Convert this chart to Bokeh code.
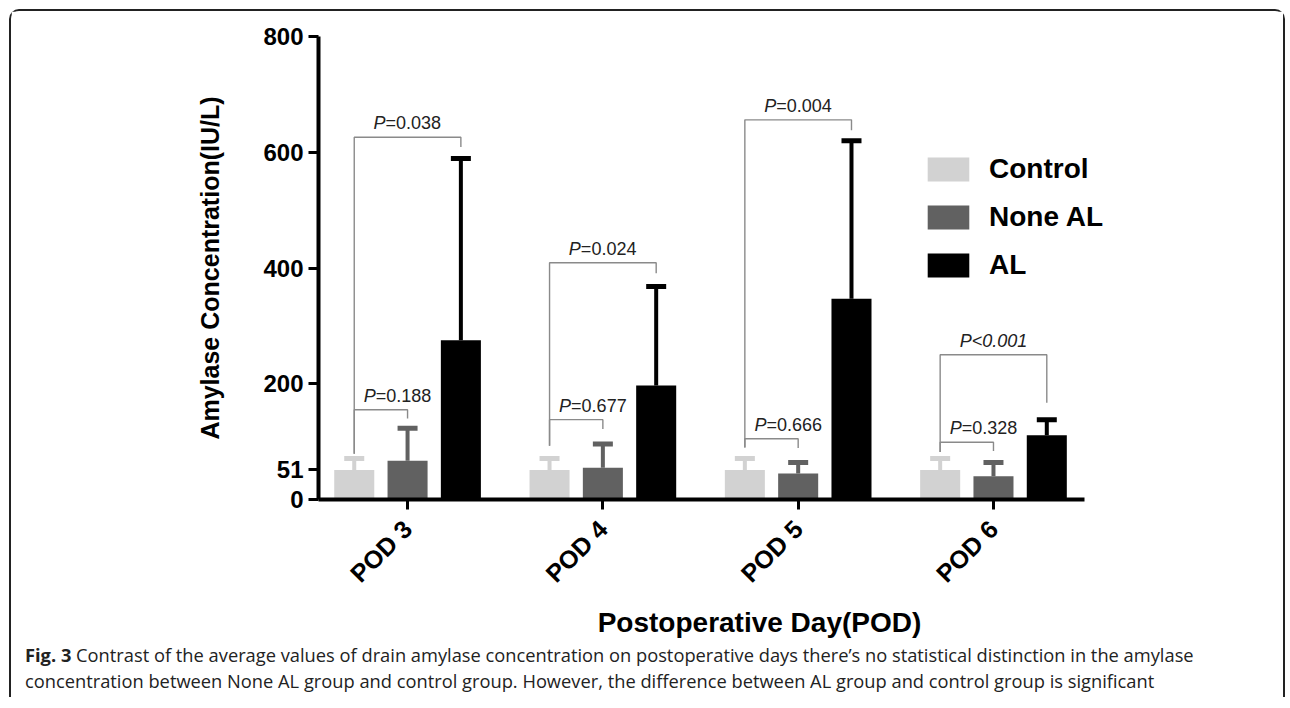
import math
from bokeh.plotting import figure
from bokeh.models import (ColumnDataSource, Range1d, FixedTicker, Whisker, TeeHead, Div)
from bokeh.layouts import column
from bokeh.core.properties import value
from bokeh.embed import file_html
from bokeh.resources import INLINE

# ---------------- data ----------------
categories = ["POD 3", "POD 4", "POD 5", "POD 6"]
groups = ["Control", "None AL", "AL"]
control_mean = [51, 51, 51, 51]
control_sd = [20, 20, 20, 20]
none_al_mean = [67, 55, 45, 40]
none_al_sd = [56, 41, 19, 24]
al_mean = [275, 197, 347, 111]
al_sd = [314, 171, 273, 27]
y_ticks = [0, 51, 200, 400, 600, 800]

# significance brackets (Control vs group)
cmp_pod = [0, 0, 1, 1, 2, 2, 3, 3]
cmp_group = [1, 2, 1, 2, 1, 2, 1, 2]
cmp_top = [155, 626, 138, 409, 105, 656, 99, 250]
cmp_left_bottom = [79, 79, 93, 93, 90, 90, 82, 82]
cmp_right_bottom = [140, 609, 122, 391, 89, 638, 84, 167]
cmp_op = ["=", "=", "=", "=", "=", "=", "=", "<"]
cmp_p = ["0.188", "0.038", "0.677", "0.024", "0.666", "0.004", "0.328", "0.001"]

caption_bold = "Fig. 3"
caption_line1 = ("Contrast of the average values of drain amylase concentration on postoperative days "
                 "there\u2019s no statistical distinction in the amylase")
caption_line2 = ("concentration between None AL group and control group. However, the difference "
                 "between AL group and control group is significant")

# ---------------- style ----------------
FONT = "Liberation Sans"
colors = ["#d2d2d2", "#616161", "#000000"]
offsets = [-0.273, 0.0, 0.273]
bar_w = 0.205
x_lo, x_hi = -0.456, 3.466

p = figure(width=1272, height=630,
           x_range=Range1d(x_lo, 4.06), y_range=Range1d(0, 800),
           output_backend="svg", toolbar_location=None,
           min_border_left=307, min_border_right=83,
           min_border_top=25, min_border_bottom=142)
p.title.visible = False
p.outline_line_color = None
p.xgrid.visible = False
p.ygrid.visible = False
p.background_fill_color = "white"
p.border_fill_color = "white"

means = [control_mean, none_al_mean, al_mean]
sds = [control_sd, none_al_sd, al_sd]
for gi, g in enumerate(groups):
    xs = [i + offsets[gi] for i in range(len(categories))]
    src = ColumnDataSource(dict(
        x=xs, top=means[gi],
        upper=[m + s for m, s in zip(means[gi], sds[gi])],
    ))
    p.vbar(x="x", top="top", width=bar_w, bottom=0, source=src,
           fill_color=colors[gi], line_color=None, legend_label=g)
    w = Whisker(source=src, base="x", upper="upper", lower="top", dimension="height",
                line_color=colors[gi], line_width=4, line_cap="butt",
                upper_head=TeeHead(size=20, line_width=5, line_color=colors[gi]),
                lower_head=None, level="glyph")
    p.add_layout(w)

# brackets
bx, by = [], []
for pod, g, top, lb, rb in zip(cmp_pod, cmp_group, cmp_top, cmp_left_bottom, cmp_right_bottom):
    xl = pod + offsets[0]
    xr = pod + offsets[g]
    bx.append([xl, xl, xr, xr])
    by.append([lb, top, top, rb])
p.multi_line(xs=bx, ys=by, line_color="#8a8a8a", line_width=1.4)

eq_x, eq_y, eq_t, lt_x, lt_y, lt_t = [], [], [], [], [], []
for pod, g, top, op, pv in zip(cmp_pod, cmp_group, cmp_top, cmp_op, cmp_p):
    lx = pod + (-0.05 if g == 1 else 0.0)
    if op == "=":
        eq_x.append(lx); eq_y.append(top); eq_t.append("=" + pv)
    else:
        lt_x.append(lx); lt_y.append(top); lt_t.append("P<" + pv)

p.text(x=eq_x, y=eq_y, text=["P"] * len(eq_x), text_font=value(FONT), text_font_size="18px",
       text_font_style="italic", text_align="right", text_baseline="bottom",
       x_offset=-22, y_offset=-4, text_color="#222222")
p.text(x=eq_x, y=eq_y, text=eq_t, text_font=value(FONT), text_font_size="18px",
       text_align="left", text_baseline="bottom",
       x_offset=-22, y_offset=-4, text_color="#222222")
p.text(x=lt_x, y=lt_y, text=lt_t, text_font=value(FONT), text_font_size="18px",
       text_font_style="italic", text_align="center", text_baseline="bottom",
       y_offset=-4, text_color="#222222")

# axes
for ax in (p.xaxis[0], p.yaxis[0]):
    ax.axis_line_width = 4
    ax.axis_line_color = "black"
    ax.major_tick_line_width = 3
    ax.major_tick_line_color = "black"
    ax.major_tick_in = 0
    ax.major_tick_out = 10
    ax.minor_tick_line_color = None
    ax.major_label_text_font = FONT
    ax.major_label_text_font_style = "bold"
    ax.major_label_text_color = "black"
    ax.axis_label_text_font = FONT
    ax.axis_label_text_font_style = "bold"
    ax.axis_label_text_color = "black"

p.yaxis.ticker = FixedTicker(ticks=y_ticks)
p.yaxis.major_label_text_font_size = "24px"
p.yaxis.major_label_standoff = 5
p.yaxis.axis_label = "Amylase Concentration(IU/L)"
p.yaxis.axis_label_text_font_size = "25px"
p.yaxis.axis_label_standoff = 36

p.xaxis.bounds = (x_lo, x_hi)
p.xaxis.ticker = FixedTicker(ticks=list(range(len(categories))))
p.xaxis.major_label_overrides = {i: c for i, c in enumerate(categories)}
p.xaxis.major_label_orientation = math.pi / 4
p.xaxis.major_label_text_font_size = "25px"
p.xaxis.major_label_standoff = 15
p.xaxis.axis_label = "Postoperative Day(POD)"
p.xaxis.axis_label_text_font_size = "28px"
p.xaxis.axis_label_standoff = 7

lg = p.legend[0]
lg.location = (604, 218)
lg.border_line_color = None
lg.background_fill_alpha = 0
lg.padding = 0
lg.margin = 0
lg.glyph_width = 52
lg.glyph_height = 30
lg.label_height = 24
lg.spacing = 16
lg.label_standoff = 15
lg.label_text_font = FONT
lg.label_text_font_style = "bold"
lg.label_text_font_size = "28px"
lg.label_text_color = "black"

cap = Div(text=f"<b>{caption_bold}</b> {caption_line1}<br>{caption_line2}",
          width=1272, height=56, margin=0,
          styles={"font-family": "'Open Sans'", "font-size": "18.3px", "line-height": "26px",
                  "color": "#222", "padding-left": "14px", "padding-top": "1px",
                  "white-space": "nowrap", "box-sizing": "border-box"})

layout = column(p, cap, spacing=0, margin=(9, 0, 0, 9),
                styles={"border": "2px solid #222", "border-bottom": "none",
                        "border-radius": "10px 10px 0 0"})

open("out.html", "w").write(file_html(layout, INLINE))
